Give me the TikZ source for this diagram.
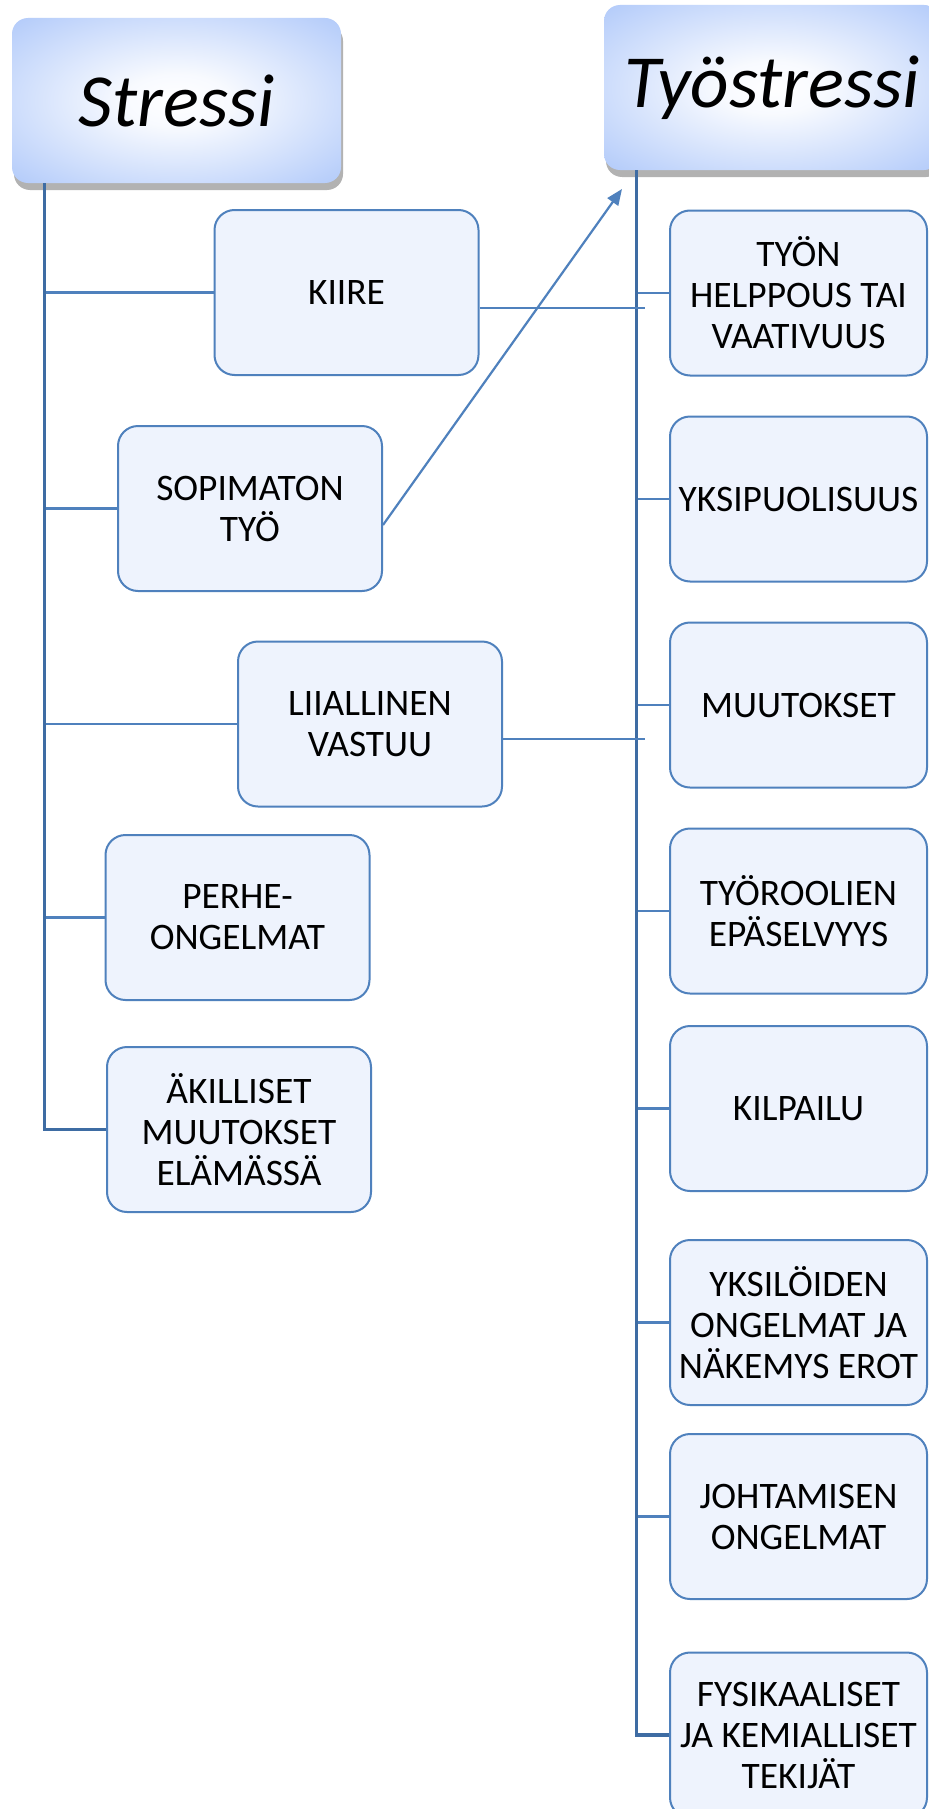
\documentclass[tikz,border=0pt]{standalone}
\usepackage{fontspec}
\setmainfont{Carlito}
\usetikzlibrary{arrows.meta,shadows}
\definecolor{hb}{HTML}{B6CDFA}
\definecolor{boxfill}{HTML}{EEF3FD}
\definecolor{boxline}{HTML}{4F81BD}
\definecolor{trunkc}{HTML}{3E6CA3}
\pgfdeclareradialshading{hdrshade}{\pgfpoint{0bp}{0bp}}{color(0bp)=(white); color(8bp)=(white!90!hb); color(34bp)=(hb); color(50bp)=(hb)}
\begin{document}
\begin{tikzpicture}[x=0.5pt,y=-0.5pt,
  hdr/.style={rounded corners=8pt, shading=hdrshade, minimum height=82.5pt,
    font=\fontsize{37.5}{44}\selectfont\itshape, inner sep=0pt,
    drop shadow={shadow xshift=1pt, shadow yshift=-3.5pt, fill=black!60, opacity=0.5}},
  itembox/.style={draw=boxline, line width=1pt, fill=boxfill, rounded corners=10pt,
    minimum height=82.5pt, align=center, inner sep=0pt,
    font=\fontsize{18.7}{20.5}\selectfont},
  lbox/.style={itembox, minimum width=132pt},
  rbox/.style={itembox, minimum width=128.5pt},
  branch/.style={draw=boxline, line width=1.1pt},
  trunk/.style={draw=trunkc, line width=1.6pt}]
\useasboundingbox (0,0) rectangle (929,1809);
\clip (0,0) rectangle (929,1809);
\fill[white] (0,0) rectangle (929,1809);

% headers
\node[hdr, minimum width=164.5pt] (stressi) at (176.5,100.5) {Stressi};
\node[hdr, minimum width=168pt] (tyo) at (772,87.5) {Työstressi};

% left boxes
\node[lbox] (kiire) at (346.5,292.5) {KIIRE};
\node[lbox] (sopimaton) at (250,508.5) {SOPIMATON\\TYÖ};
\node[lbox] (liiallinen) at (370,724) {LIIALLINEN\\VASTUU};
\node[lbox] (perhe) at (237.5,917.5) {PERHE-\\ONGELMAT};
\node[lbox] (akilliset) at (239,1129.5) {ÄKILLISET\\MUUTOKSET\\ELÄMÄSSÄ};

% right boxes
\node[rbox] (r1) at (798.5,293) {TYÖN\\HELPPOUS TAI\\VAATIVUUS};
\node[rbox] (r2) at (798.5,499) {YKSIPUOLISUUS};
\node[rbox] (r3) at (798.5,705) {MUUTOKSET};
\node[rbox] (r4) at (798.5,911) {TYÖROOLIEN\\EPÄSELVYYS};
\node[rbox] (r5) at (798.5,1108.5) {KILPAILU};
\node[rbox] (r6) at (798.5,1322.5) {YKSILÖIDEN\\ONGELMAT JA\\NÄKEMYS EROT};
\node[rbox] (r7) at (798.5,1516.5) {JOHTAMISEN\\ONGELMAT};
\node[rbox] (r8) at (798.5,1735) {FYSIKAALISET\\JA KEMIALLISET\\TEKIJÄT};

% trunks
\coordinate (L) at (45,0);
\coordinate (R) at (637,0);
\foreach \n in {kiire,sopimaton,liiallinen,perhe}
  \draw[branch] (\n.west) -- (\n.west -| L);
\foreach \n in {r1,r2,r3,r4,r5,r6,r7}
  \draw[branch] (\n.west) -- (\n.west -| R);
\draw[trunk] ([xshift=16.5pt]stressi.south west) |- (akilliset.west);
\draw[trunk] ([xshift=16.5pt]tyo.south west) |- (r8.west);

% cross connectors
\coordinate (k1) at (645,308);
\draw[branch] (kiire.east |- k1) -- (k1);
\coordinate (k2) at (645,739);
\draw[branch] (liiallinen.east |- k2) -- (k2);
\coordinate (arrtip) at (622,189);
\draw[branch, -{Triangle[length=8pt,width=6.5pt]}] ([yshift=-8.25pt]sopimaton.east) -- (arrtip);
\end{tikzpicture}
\end{document}
